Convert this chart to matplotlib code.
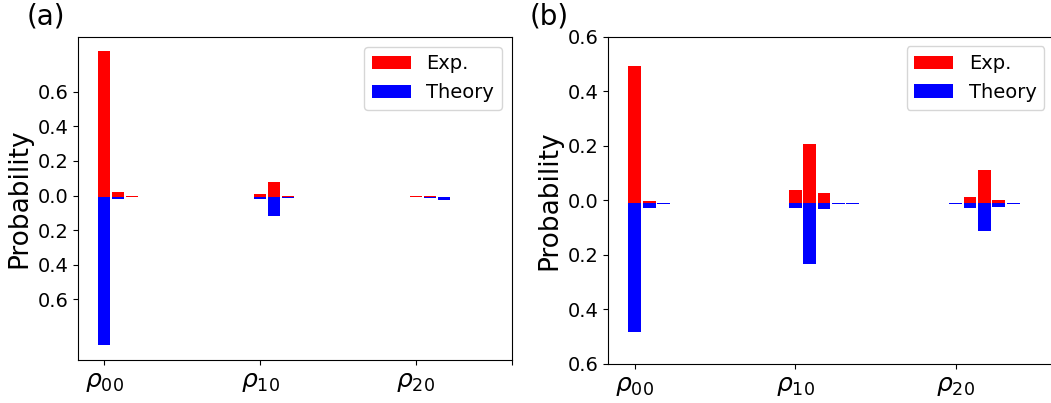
import numpy as np
import matplotlib.pyplot as plt

# density-matrix elements shown on the x axis
labels = [r'$\rho_{00}$', r'$\rho_{10}$', r'$\rho_{20}$']

# (a) experiment (up) and theory (down), bars per element
exp_a = [[0.840, 0.025, 0.005],
         [0.015, 0.087, 0.006],
         [0.005, 0.006, 0.0]]
theory_a = [[0.860, 0.012, 0.0],
            [0.014, 0.110, 0.008],
            [0.0, 0.006, 0.018]]

# (b)
exp_b = [[0.502, 0.007, 0.0],
         [0.048, 0.216, 0.037, 0.0, 0.0],
         [0.0, 0.022, 0.121, 0.011, 0.0]]
theory_b = [[0.471, 0.018, 0.004],
            [0.017, 0.222, 0.021, 0.004, 0.004],
            [0.004, 0.018, 0.101, 0.015, 0.004]]

step = 0.09
width = 0.08
xmin, xmax = -0.165, 2.615


def draw(ax, exp, theory, base):
    for g in range(len(labels)):
        x = g + step * np.arange(len(exp[g]))
        ax.bar(x, exp[g], width, bottom=base, color='red',
               label='Exp.' if g == 0 else None)
    for g in range(len(labels)):
        x = g + step * np.arange(len(theory[g]))
        ax.bar(x, -np.array(theory[g]), width, bottom=base, color='blue',
               label='Theory' if g == 0 else None)
    ax.set_xlim(xmin, xmax)
    ax.set_xticks([0, 1, 2, xmax])
    ax.set_xticklabels(labels + [''], fontsize=18)
    ax.tick_params(axis='y', labelsize=14)
    ax.set_ylabel('Probability', fontsize=19)
    ax.legend(loc='upper right', fontsize=14)


fig = plt.figure(figsize=(10.51, 4.03), dpi=100)

ax1 = fig.add_axes([0.0745, 0.1067, 0.4125, 0.8015])
draw(ax1, exp_a, theory_a, -0.006)
ticks = [-0.6, -0.4, -0.2, 0.0, 0.2, 0.4, 0.6]
ax1.set_ylim(-0.951, 0.917)
ax1.set_yticks(ticks)
ax1.set_yticklabels(['%.1f' % abs(t) for t in ticks])

ax2 = fig.add_axes([0.5788, 0.0968, 0.4242, 0.8122])
draw(ax2, exp_b, theory_b, -0.01)
ax2.set_ylim(-0.6, 0.6)
ax2.set_yticks(ticks)
ax2.set_yticklabels(['%.1f' % abs(t) for t in ticks])

fig.text(0.025, 0.958, '(a)', fontsize=20, va='center')
fig.text(0.504, 0.958, '(b)', fontsize=20, va='center')

fig.savefig('out.png', dpi=100)
